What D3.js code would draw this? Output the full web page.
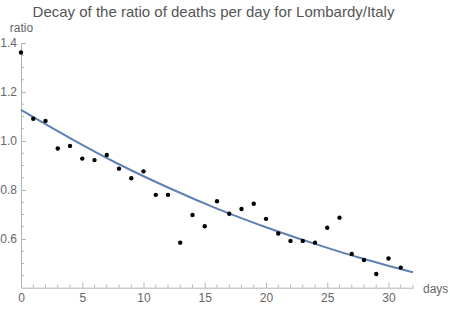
<!DOCTYPE html>
<html>
<head>
<meta charset="utf-8">
<script src="https://cdn.jsdelivr.net/npm/d3@7"></script>
<style>
  body { margin: 0; background: #fff; }
  svg { display: block; font-family: "Liberation Sans", Arial, sans-serif; }
  .tick text { fill: #666; font-size: 12px; }
  .axis path, .axis line { stroke: #b3b3b3; }
</style>
</head>
<body>
<svg id="chart" width="450" height="309"></svg>
<script>
const days = [0, 1, 2, 3, 4, 5, 6, 7, 8, 9, 10, 11, 12, 13, 14, 15,
  16, 17, 18, 19, 20, 21, 22, 23, 24, 25, 26, 27, 28, 29, 30, 31];
const ratio = [1.361, 1.091, 1.082, 0.969, 0.980, 0.928, 0.922, 0.943,
  0.887, 0.848, 0.876, 0.780, 0.780, 0.585, 0.698, 0.652,
  0.754, 0.703, 0.722, 0.744, 0.682, 0.622, 0.592, 0.592,
  0.585, 0.646, 0.687, 0.539, 0.514, 0.457, 0.520, 0.483];

// fitted decay curve, every 4 days
const fitDays = [0, 4, 8, 12, 16, 20, 24, 28, 32];
const fitRatio = [1.127, 1.012, 0.905, 0.810, 0.724, 0.648, 0.580, 0.518, 0.464];

const yMajor = [0.6, 0.8, 1.0, 1.2, 1.4];
const xMajor = [0, 5, 10, 15, 20, 25, 30];

const svg = d3.select("#chart");

const x = d3.scaleLinear().domain([0, 32]).range([21, 413]);
const y = d3.scaleLinear().domain([0.401, 1.4]).range([287.7, 43]);

// minor ticks
const xMinor = d3.range(0, 33, 1).filter(d => d % 5 !== 0);
const yMinor = d3.range(0.45, 1.41, 0.05)
  .filter(d => !yMajor.some(m => Math.abs(m - d) < 1e-6));

const gx = svg.append("g").attr("class", "axis")
  .attr("transform", `translate(0,${y.range()[0]})`);
gx.call(d3.axisBottom(x).tickValues(xMajor).tickSizeInner(-5).tickSizeOuter(0).tickPadding(6));
gx.selectAll(".minor").data(xMinor).enter().append("line")
  .attr("x1", d => x(d)).attr("x2", d => x(d))
  .attr("y1", 0).attr("y2", -3)
  .attr("stroke", "#b3b3b3");

const gy = svg.append("g").attr("class", "axis")
  .attr("transform", `translate(${x(0)},0)`);
gy.call(d3.axisLeft(y).tickValues(yMajor).tickFormat(d3.format(".1f"))
  .tickSizeInner(-5).tickSizeOuter(0).tickPadding(4));
gy.selectAll(".minor").data(yMinor).enter().append("line")
  .attr("x1", 0).attr("x2", 3)
  .attr("y1", d => y(d)).attr("y2", d => y(d))
  .attr("stroke", "#b3b3b3");

// fitted curve
const line = d3.line()
  .x((d, i) => x(fitDays[i]))
  .y(d => y(d))
  .curve(d3.curveMonotoneX);
svg.append("path")
  .datum(fitRatio)
  .attr("d", line)
  .attr("fill", "none")
  .attr("stroke", "#5e81b5")
  .attr("stroke-width", 2);

// points
svg.append("g").selectAll("circle")
  .data(ratio)
  .enter().append("circle")
  .attr("cx", (d, i) => x(days[i]))
  .attr("cy", d => y(d))
  .attr("r", 2.2)
  .attr("fill", "#000");

// labels
svg.append("text")
  .attr("x", 213.5).attr("y", 17)
  .attr("text-anchor", "middle")
  .attr("fill", "#555")
  .attr("font-size", 15)
  .text("Decay of the ratio of deaths per day for Lombardy/Italy");

svg.append("text")
  .attr("x", 21.5).attr("y", 31.5)
  .attr("text-anchor", "middle")
  .attr("fill", "#666")
  .attr("font-size", 12)
  .text("ratio");

svg.append("text")
  .attr("x", 423).attr("y", 292.5)
  .attr("fill", "#666")
  .attr("font-size", 12)
  .text("days");
</script>
</body>
</html>
